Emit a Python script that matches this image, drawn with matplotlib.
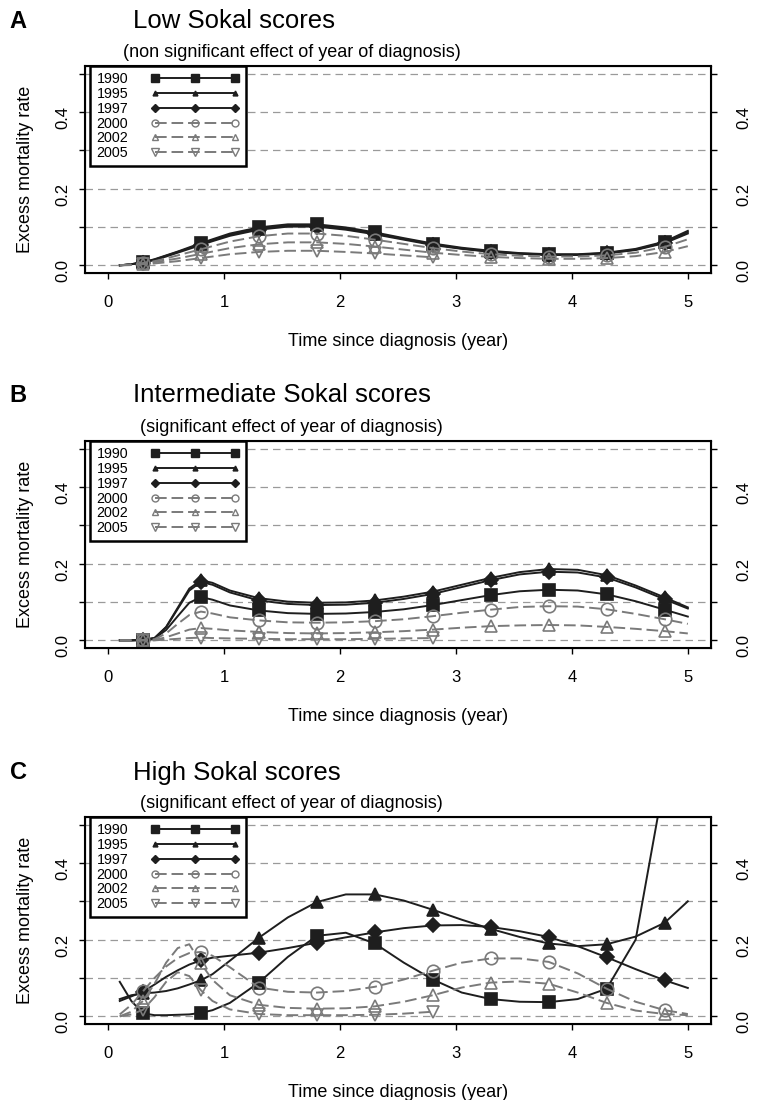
import numpy as np
import matplotlib.pyplot as plt
from matplotlib.lines import Line2D

plt.rcParams['font.family'] = ['Liberation Sans', 'DejaVu Sans']

# time since diagnosis (years) where the curves were read, and symbol positions
t = [0.1, 0.2, 0.3, 0.4, 0.5, 0.6, 0.7, 0.8, 0.9, 1.05, 1.3, 1.55, 1.8, 2.05,
     2.3, 2.55, 2.8, 3.05, 3.3, 3.55, 3.8, 4.05, 4.3, 4.55, 4.8, 5.0]
marker_times = [0.3, 0.8, 1.3, 1.8, 2.3, 2.8, 3.3, 3.8, 4.3, 4.8]
years = ['1990', '1995', '1997', '2000', '2002', '2005']
nan = float('nan')

# A: low Sokal scores
low_1990 = [0.000, 0.003, 0.008, 0.016, 0.026, 0.036, 0.047, 0.058, 0.068, 0.083, 0.099, 0.107, 0.107,
            0.099, 0.086, 0.071, 0.057, 0.046, 0.038, 0.032, 0.029, 0.029, 0.033, 0.043, 0.062, 0.090]
low_1995 = [0.000, 0.003, 0.008, 0.015, 0.025, 0.035, 0.045, 0.056, 0.066, 0.080, 0.096, 0.104, 0.104,
            0.096, 0.083, 0.069, 0.055, 0.044, 0.036, 0.031, 0.028, 0.028, 0.032, 0.041, 0.060, 0.087]
low_1997 = [0.000, 0.003, 0.007, 0.014, 0.023, 0.033, 0.043, 0.053, 0.063, 0.077, 0.093, 0.101, 0.101,
            0.093, 0.081, 0.067, 0.053, 0.043, 0.035, 0.030, 0.027, 0.027, 0.031, 0.040, 0.058, 0.083]
low_2000 = [0.000, 0.002, 0.006, 0.011, 0.018, 0.026, 0.034, 0.042, 0.050, 0.062, 0.076, 0.083, 0.083,
            0.077, 0.067, 0.056, 0.045, 0.036, 0.029, 0.025, 0.023, 0.023, 0.026, 0.033, 0.048, 0.068]
low_2002 = [0.000, 0.002, 0.004, 0.008, 0.013, 0.018, 0.024, 0.030, 0.036, 0.045, 0.055, 0.060, 0.060,
            0.056, 0.049, 0.041, 0.033, 0.027, 0.022, 0.019, 0.017, 0.017, 0.019, 0.024, 0.035, 0.050]
low_2005 = [0.000, 0.001, 0.003, 0.005, 0.008, 0.011, 0.015, 0.019, 0.023, 0.029, 0.035, 0.038, 0.038,
            0.035, 0.031, 0.026, 0.021, nan, nan, nan, nan, nan, nan, nan, nan, nan]

# B: intermediate Sokal scores
int_1990 = [0.000, 0.000, 0.001, 0.005, 0.027, 0.063, 0.098, 0.113, 0.106, 0.091, 0.078, 0.071, 0.069,
            0.070, 0.074, 0.081, 0.092, 0.105, 0.118, 0.128, 0.132, 0.130, 0.120, 0.102, 0.080, 0.062]
int_1995 = [0.000, 0.000, 0.001, 0.006, 0.035, 0.085, 0.135, 0.157, 0.150, 0.130, 0.110, 0.101, 0.098,
            0.099, 0.104, 0.114, 0.127, 0.145, 0.163, 0.178, 0.186, 0.184, 0.170, 0.143, 0.112, 0.086]
int_1997 = [0.000, 0.000, 0.001, 0.006, 0.034, 0.082, 0.130, 0.152, 0.145, 0.125, 0.104, 0.095, 0.092,
            0.093, 0.098, 0.108, 0.121, 0.139, 0.157, 0.172, 0.179, 0.177, 0.164, 0.138, 0.107, 0.083]
int_2000 = [0.000, 0.000, 0.001, 0.003, 0.018, 0.043, 0.066, 0.075, 0.070, 0.060, 0.052, 0.047, 0.046,
            0.047, 0.050, 0.055, 0.063, 0.072, 0.080, 0.087, 0.089, 0.088, 0.081, 0.069, 0.055, 0.043]
int_2002 = [0.000, 0.000, 0.000, 0.001, 0.008, 0.018, 0.028, 0.032, 0.030, 0.026, 0.022, 0.019, 0.018,
            0.019, 0.021, 0.024, 0.028, 0.033, 0.037, 0.039, 0.040, 0.039, 0.035, 0.030, 0.024, 0.018]
int_2005 = [0.000, 0.000, 0.000, 0.000, 0.002, 0.004, 0.006, 0.007, 0.006, 0.005, 0.004, 0.003, 0.003,
            0.003, 0.004, 0.005, 0.006, nan, nan, nan, nan, nan, nan, nan, nan, nan]

# C: high Sokal scores
high_1990 = [0.090, 0.040, 0.008, 0.003, 0.003, 0.004, 0.005, 0.009, 0.016, 0.035, 0.088, 0.155, 0.210,
             0.218, 0.190, 0.140, 0.096, 0.062, 0.045, 0.038, 0.037, 0.045, 0.072, 0.200, 0.620, 1.200]
high_1995 = [0.045, 0.055, 0.060, 0.062, 0.066, 0.073, 0.083, 0.094, 0.110, 0.145, 0.205, 0.258, 0.298,
             0.318, 0.318, 0.302, 0.278, 0.252, 0.228, 0.207, 0.190, 0.183, 0.188, 0.208, 0.244, 0.300]
high_1997 = [0.040, 0.052, 0.064, 0.083, 0.103, 0.120, 0.135, 0.146, 0.153, 0.158, 0.166, 0.178, 0.192,
             0.206, 0.219, 0.230, 0.237, 0.238, 0.233, 0.222, 0.207, 0.183, 0.154, 0.123, 0.094, 0.074]
high_2000 = [0.005, 0.030, 0.065, 0.100, 0.130, 0.152, 0.165, 0.168, 0.158, 0.128, 0.075, 0.064, 0.062,
             0.066, 0.077, 0.096, 0.119, 0.140, 0.151, 0.151, 0.142, 0.112, 0.072, 0.038, 0.016, 0.006]
high_2002 = [0.000, 0.012, 0.040, 0.085, 0.140, 0.178, 0.188, 0.138, 0.095, 0.055, 0.030, 0.022, 0.020,
             0.021, 0.026, 0.038, 0.055, 0.075, 0.088, 0.091, 0.085, 0.062, 0.035, 0.015, 0.006, 0.003]
high_2005 = [0.000, 0.005, 0.017, 0.050, 0.090, 0.115, 0.105, 0.068, 0.040, 0.018, 0.006, 0.003, 0.003,
             0.003, 0.004, 0.007, 0.012, nan, nan, nan, nan, nan, nan, nan, nan, nan]

panel_data = [
    [low_1990, low_1995, low_1997, low_2000, low_2002, low_2005],
    [int_1990, int_1995, int_1997, int_2000, int_2002, int_2005],
    [high_1990, high_1995, high_1997, high_2000, high_2002, high_2005],
]
letters = ['A', 'B', 'C']
titles = ['Low Sokal scores', 'Intermediate Sokal scores', 'High Sokal scores']
subtitles = ['(non significant effect of year of diagnosis)',
             '(significant effect of year of diagnosis)',
             '(significant effect of year of diagnosis)']

dark = '#1e1e1e'
grey = '#7a7a7a'
dash = (0, (6, 2.5))
# colour, linestyle, marker, filled, plot size, legend size
styles = [
    (dark, '-', 's', True, 9, 6),
    (dark, '-', '^', True, 9, 3.5),
    (dark, '-', 'D', True, 7, 4.5),
    (grey, dash, 'o', False, 9, 5),
    (grey, dash, '^', False, 9, 5),
    (grey, dash, 'v', False, 9, 5.5),
]

t_arr = np.array(t)
mark_idx = list(np.where(np.isin(np.round(t_arr, 2), marker_times))[0])

fig = plt.figure(figsize=(7.58, 11), dpi=100)
bottoms = [0.7518, 0.4109, 0.0691]
head_y = [0.9809, 0.6409, 0.2973]
sub_y = [0.9527, 0.6118, 0.2700]
yticks = [0.0, 0.1, 0.2, 0.3, 0.4, 0.5]
ylabels = ['0.0', '', '0.2', '', '0.4', '']

for p in range(3):
    ax = fig.add_axes([0.1121, bottoms[p], 0.8259, 0.1882])
    for (col, ls, mk, filled, ms, lms), y in zip(styles, panel_data[p]):
        ax.plot(t, y, color=col, ls=ls, lw=1.4, marker=mk, markevery=mark_idx, ms=ms,
                mfc=col if filled else 'none', mec=col, mew=1.2)
    ax.set_xlim(-0.2, 5.2)
    ax.set_ylim(-0.02, 0.52)
    ax.set_xticks([0, 1, 2, 3, 4, 5])
    ax.set_yticks(yticks)
    ax.set_yticklabels(ylabels)
    ax.grid(axis='y', color='#9a9a9a', ls=(0, (6, 4)), lw=0.9)
    ax.set_axisbelow(True)
    ax.tick_params(axis='x', length=4.5, width=1, pad=11, labelsize=12)
    ax.tick_params(axis='y', length=4.5, width=1, pad=6, labelsize=12, labelrotation=90)
    for s in ax.spines.values():
        s.set_linewidth(1.5)
    ax.set_ylabel('Excess mortality rate', fontsize=13)
    ax.yaxis.set_label_coords(-0.081, 0.5)
    ax.set_xlabel('Time since diagnosis (year)', fontsize=13)
    ax.xaxis.set_label_coords(0.5, -0.29)

    ax2 = ax.twinx()
    ax2.set_ylim(ax.get_ylim())
    ax2.set_yticks(yticks)
    ax2.set_yticklabels(ylabels)
    ax2.tick_params(axis='y', length=4.5, width=1, pad=14, labelsize=12, labelrotation=90)

    handles = [Line2D([], [], color=col, ls=ls, lw=1.4, marker=mk, ms=lms,
                      mfc=col if filled else 'none', mec=col, mew=1.0)
               for col, ls, mk, filled, ms, lms in styles]
    leg = ax.legend(handles, years, loc='upper left', bbox_to_anchor=(0.008, 1.0),
                    borderaxespad=0, markerfirst=False, numpoints=3, handlelength=6.2,
                    handletextpad=1.6, labelspacing=0.05, borderpad=0.45, fontsize=10.3,
                    fancybox=False, edgecolor='black', framealpha=1)
    leg.get_frame().set_linewidth(1.8)
    leg.set_zorder(10)

    fig.text(0.013, head_y[p], letters[p], fontsize=17, fontweight='bold', va='center')
    fig.text(0.1755, head_y[p], titles[p], fontsize=18.5, va='center')
    fig.text(0.385, sub_y[p], subtitles[p], fontsize=13, va='center', ha='center')

plt.savefig('out.png', dpi=100)
